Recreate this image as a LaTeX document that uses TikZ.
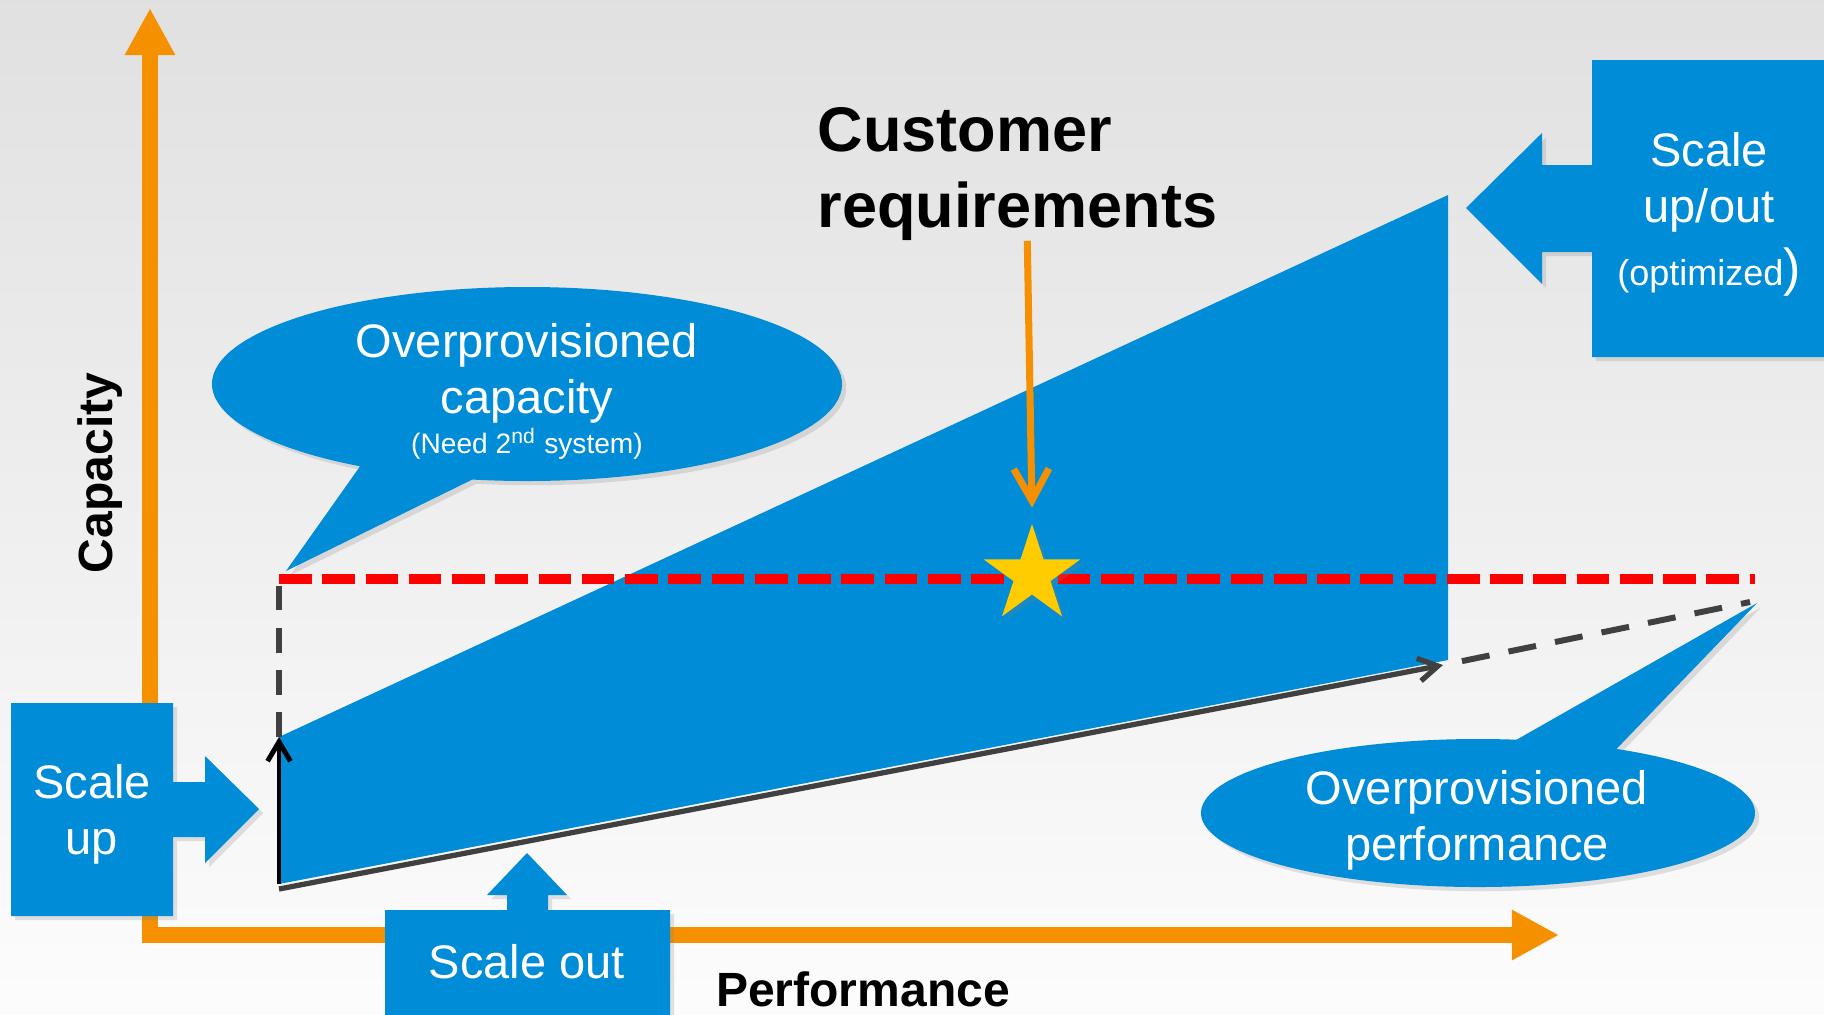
\documentclass[tikz,border=0pt]{standalone}
\usepackage{fontspec}
\setmainfont{Liberation Sans}
\usepackage{tikz}
\usetikzlibrary{arrows.meta, shapes.geometric, shadows, calc}

\definecolor{panelblue}{RGB}{0,140,214}
\definecolor{axisorange}{RGB}{245,145,0}
\definecolor{trendgray}{RGB}{64,64,64}
\definecolor{stargold}{RGB}{255,204,0}

\begin{document}
\begin{tikzpicture}[x=0.01cm, y=-0.01cm,
  softshadow/.style={drop shadow={opacity=0.22, shadow xshift=1.2pt, shadow yshift=-1.2pt}},
  panel/.style={fill=panelblue, softshadow},
  axisline/.style={axisorange, line width=4.4pt, line join=miter,
    {Triangle[width=13.4pt, length=13.4pt]}-{Triangle[width=13.4pt, length=13.4pt]}},
  openhead/.style={-{Straight Barb[length=5.5pt, width=6.5pt]}},
  lbl/.style={text=white, font=\fontsize{13.37}{15.93}\selectfont, align=center, inner sep=0pt},
  axislbl/.style={font=\fontsize{13.66}{16}\selectfont\bfseries, inner sep=0pt}
]
% background
\useasboundingbox (0,0) rectangle (1824,1014);
\clip (0,0) rectangle (1824,1014);
\shade[top color=black!12, bottom color=black!1] (0,0) rectangle (1824,1014);

% axes
\coordinate (origin) at (150,935);
\coordinate (ytip) at (150,8);
\coordinate (xtip) at (1559,935);
\draw[axisline] (ytip) -- (origin) -- (xtip);
\node[axislbl, rotate=90] (caplbl) at (100,473) {Capacity};
\node[axislbl, anchor=base] (perflbl) at (863,1006) {Performance};

% region between scale up and scale out
\coordinate (tl) at (279,737);
\coordinate (tr) at (1448,195);
\coordinate (br) at (1448,660);
\coordinate (bl) at (279,884);
\fill[panelblue] (bl) -- (tl) -- (tr) -- (br) -- cycle;

% performance trend
\coordinate (perfstart) at (279,889);
\coordinate (perfend) at (1443,665);
\coordinate (perfmax) at (1750,602);
\draw[white, line width=0.6pt] ([yshift=0.5pt]perfstart) -- ([yshift=0.5pt]perfend);
\draw[trendgray, line width=1.5pt, openhead] (perfstart) -- (perfend);
\draw[trendgray, line width=1.7pt, dash pattern=on 8pt off 5.5pt, dash phase=8pt] (perfend) -- (perfmax);

% capacity level
\coordinate (capstart) at (279,579);
\coordinate (capend) at (1755,579);
\draw[trendgray, line width=1.5pt, dash pattern=on 7pt off 5pt] (tl) -- (capstart);
\draw[red, line width=2.9pt, dash pattern=on 9.3pt off 3pt] (capstart) -- (capend);
\draw[black, line width=1.4pt, openhead] (bl) -- (tl);

% customer requirements
\node[font=\fontsize{17.93}{21.34}\selectfont\bfseries, align=left, anchor=west, inner sep=0pt] (req) at (817,174) {Customer\\requirements};
\node[star, star points=5, star point ratio=2.618, minimum size=29pt, inner sep=0pt, fill=stargold, softshadow] (goal) at (1032,575) {};
\draw[axisorange, line width=2pt, -{Straight Barb[length=9pt, width=10pt]}] ([xshift=2.8pt]req.south) -- ([yshift=4pt]goal.north);

% overprovisioned capacity
\coordinate (capc) at (527,384);
\coordinate (captip) at (286,571);
\fill[panel] ($(capc)+(122:315 and 97)$) arc[start angle=122, end angle=460, x radius=315, y radius=97] -- (captip) -- cycle;
\node[lbl] (capnote) at (527,391) {Overprovisioned\\capacity\\[-4.5pt]{\fontsize{8}{9}\selectfont (Need 2\textsuperscript{nd} system)}};

% overprovisioned performance
\coordinate (perfc) at (1478,813);
\coordinate (perftip) at (1757,603);
\fill[panel] ($(perfc)+(300:277 and 74)$) arc[start angle=300, end angle=638, x radius=277, y radius=74] -- (perftip) -- cycle;
\node[lbl] (perfnote) at (1477,820) {Overprovisioned\\performance};

% scale up
\fill[panel] (11,703) -- (173,703) -- (173,782) -- (205,782) -- (205,756) -- (259,809) -- (205,863) -- (205,837) -- (173,837) -- (173,916) -- (11,916) -- cycle;
\node[lbl] (up) at (92,814) {Scale\\up};

% scale out
\fill[panel] (385,1030) -- (385,910) -- (507,910) -- (507,895) -- (487,895) -- (527,853) -- (567,895) -- (548,895) -- (548,910) -- (670,910) -- (670,1030) -- cycle;
\node[lbl, anchor=base] (out) at (527,978) {Scale out};

% scale up/out
\fill[panel] (1840,60) -- (1592,60) -- (1592,165) -- (1542,165) -- (1542,133) -- (1466,208) -- (1542,284) -- (1542,252) -- (1592,252) -- (1592,357) -- (1840,357) -- cycle;
\node[lbl] (upout) at (1709,214) {Scale\\up/out\\[2pt]{\fontsize{10.24}{12}\selectfont(optimized}{\fontsize{14.8}{16}\selectfont)}};
\end{tikzpicture}
\end{document}
